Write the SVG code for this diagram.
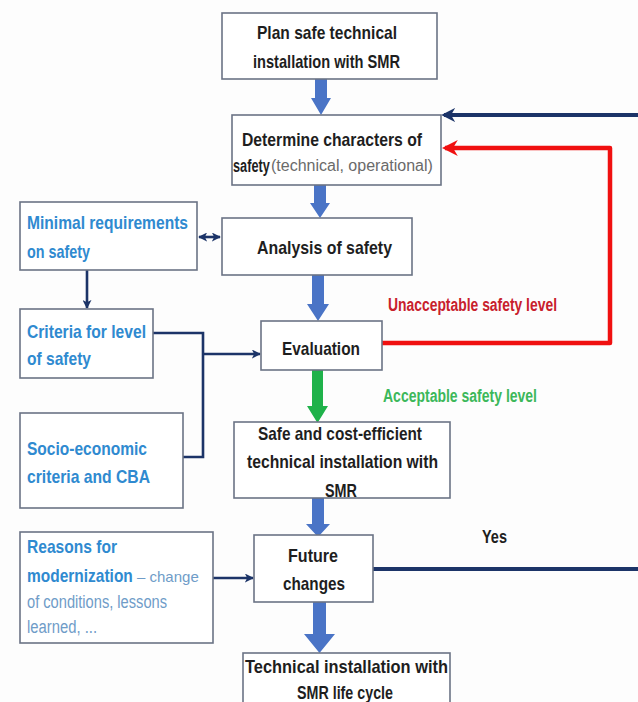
<svg xmlns="http://www.w3.org/2000/svg" width="638" height="702" viewBox="0 0 638 702">
<defs>
<style>
.box{fill:#ffffff;stroke:#6b7385;stroke-width:1.6}
.t{font-family:"Liberation Sans",Arial,sans-serif;font-weight:bold;font-size:19px;fill:#1e1e1e}
.b{font-family:"Liberation Sans",Arial,sans-serif;font-weight:bold;font-size:19px;fill:#2f8ad0}
.n{font-family:"Liberation Sans",Arial,sans-serif;font-weight:normal;font-size:18px}
.nav{fill:none;stroke:#1c3468;stroke-width:2.6}
.navt{fill:none;stroke:#1c3468;stroke-width:4}
.red{fill:none;stroke:#f01010;stroke-width:4.5;stroke-linejoin:round}
.blk{fill:#4a74c6}
.grn{fill:#1fb24a}
</style>
<marker id="an" viewBox="0 0 10 10" refX="9" refY="5" markerWidth="9" markerHeight="9" markerUnits="userSpaceOnUse" orient="auto-start-reverse"><path d="M0,0 L10,5 L0,10 L2.5,5 z" fill="#1c3468"/></marker>
<marker id="anb" viewBox="0 0 10 10" refX="8" refY="5" markerWidth="14" markerHeight="14" markerUnits="userSpaceOnUse" orient="auto"><path d="M0,0 L10,5 L0,10 L3,5 z" fill="#1c3468"/></marker>
<marker id="ar" viewBox="0 0 10 10" refX="8" refY="5" markerWidth="16" markerHeight="16" markerUnits="userSpaceOnUse" orient="auto"><path d="M0,0 L10,5 L0,10 L3,5 z" fill="#f01010"/></marker>
</defs>
<rect width="638" height="702" fill="#fdfdfd"/>

<g id="connectors">
<polygon class="blk" points="315,79 327,79 327,98 331,98 321,115 311,98 315,98"/>
<polygon class="blk" points="314,185 326,185 326,203 330,203 320,218 310,203 314,203"/>
<polygon class="blk" points="312,275 324,275 324,304 329,304 318,321 307,304 312,304"/>
<polygon class="grn" points="312,370 323,370 323,406 328,406 317.5,423 307,406 312,406"/>
<polygon class="blk" points="312,498 324,498 324,524 330,524 318,537 306,524 312,524"/>
<polygon class="blk" points="313,602 326,602 326,634 335,634 319.5,653 304,634 313,634"/>
<line class="navt" x1="638" y1="115" x2="444" y2="115" marker-end="url(#anb)"/>
<polyline class="red" points="382,343 610,343 610,148 445,148" marker-end="url(#ar)"/>
<line class="navt" x1="373" y1="569" x2="638" y2="569"/>
<line class="nav" x1="199" y1="237" x2="220" y2="237" marker-start="url(#an)" marker-end="url(#an)"/>
<line class="nav" x1="87" y1="270" x2="87" y2="308" marker-end="url(#an)"/>
<polyline class="nav" points="153,333 203,333 203,457 183,457"/>
<line class="nav" x1="203" y1="354" x2="260" y2="354" marker-end="url(#an)"/>
<line class="nav" x1="213" y1="578" x2="253" y2="578" marker-end="url(#an)"/>
</g>

<g id="plan">
<rect class="box" x="222" y="13" width="215" height="66"/>
<text class="t" x="257" y="39" textLength="140" lengthAdjust="spacingAndGlyphs">Plan safe technical</text>
<text class="t" x="253" y="68" textLength="147" lengthAdjust="spacingAndGlyphs">installation with SMR</text>
</g>

<g id="determine">
<rect class="box" x="232" y="115" width="209" height="70"/>
<text class="t" x="242" y="146" textLength="180" lengthAdjust="spacingAndGlyphs">Determine characters of</text>
<text class="t" transform="translate(233,172) scale(0.67,1)">safety</text>
<text class="n" x="271" y="171" style="font-size:16px" fill="#6a6a6a">(technical, operational)</text>
</g>

<g id="minimal">
<rect class="box" x="20" y="202" width="177" height="68"/>
<text class="b" x="27" y="229" textLength="161" lengthAdjust="spacingAndGlyphs">Minimal requirements</text>
<text class="b" x="27" y="258" textLength="63" lengthAdjust="spacingAndGlyphs">on safety</text>
</g>

<g id="analysis">
<rect class="box" x="222" y="218" width="190" height="57"/>
<text class="t" x="257" y="254" textLength="135" lengthAdjust="spacingAndGlyphs">Analysis of safety</text>
</g>

<g id="criteria">
<rect class="box" x="20" y="309" width="133" height="69"/>
<text class="b" x="27" y="338" textLength="119" lengthAdjust="spacingAndGlyphs">Criteria for level</text>
<text class="b" x="27" y="365" textLength="64" lengthAdjust="spacingAndGlyphs">of safety</text>
</g>

<g id="evaluation">
<rect class="box" x="261" y="321" width="121" height="49"/>
<text class="t" x="282" y="355" textLength="78" lengthAdjust="spacingAndGlyphs">Evaluation</text>
</g>

<g id="labels">
<text class="t" x="388" y="311" style="fill:#c8202c;font-size:18px" textLength="169" lengthAdjust="spacingAndGlyphs">Unacceptable safety level</text>
<text class="t" x="383" y="402" style="fill:#3cb85a;font-size:18px" textLength="154" lengthAdjust="spacingAndGlyphs">Acceptable safety level</text>
<text class="t" x="482" y="543" textLength="25" lengthAdjust="spacingAndGlyphs">Yes</text>
</g>

<g id="socio">
<rect class="box" x="20" y="413" width="163" height="95"/>
<text class="b" x="27" y="455" textLength="120" lengthAdjust="spacingAndGlyphs">Socio-economic</text>
<text class="b" x="27" y="483" textLength="123" lengthAdjust="spacingAndGlyphs">criteria and CBA</text>
</g>

<g id="safe">
<rect class="box" x="234" y="422" width="216" height="76"/>
<text class="t" x="258" y="440" textLength="164" lengthAdjust="spacingAndGlyphs">Safe and cost-efficient</text>
<text class="t" x="247" y="468" textLength="191" lengthAdjust="spacingAndGlyphs">technical installation with</text>
<text class="t" x="325" y="497" textLength="32" lengthAdjust="spacingAndGlyphs">SMR</text>
</g>

<g id="reasons">
<rect class="box" x="20" y="532" width="193" height="111"/>
<text class="b" x="27" y="553" textLength="90" lengthAdjust="spacingAndGlyphs">Reasons for</text>
<text class="b" transform="translate(27,582) scale(0.815,1)">modernization</text>
<text class="n" x="137" y="582" style="font-size:15px" fill="#6f9cc8">– change</text>
<text class="n" x="27" y="608" fill="#6f9cc8" textLength="140" lengthAdjust="spacingAndGlyphs">of conditions, lessons</text>
<text class="n" x="27" y="633" fill="#6f9cc8" textLength="70" lengthAdjust="spacingAndGlyphs">learned, ...</text>
</g>

<g id="future">
<rect class="box" x="254" y="535" width="119" height="67"/>
<text class="t" x="288" y="562" textLength="50" lengthAdjust="spacingAndGlyphs">Future</text>
<text class="t" x="283" y="590" textLength="62" lengthAdjust="spacingAndGlyphs">changes</text>
</g>

<g id="lifecycle">
<rect class="box" x="243" y="653" width="207" height="60"/>
<text class="t" x="245" y="673" textLength="203" lengthAdjust="spacingAndGlyphs">Technical installation with</text>
<text class="t" x="297" y="699" textLength="96" lengthAdjust="spacingAndGlyphs">SMR life cycle</text>
</g>
</svg>
